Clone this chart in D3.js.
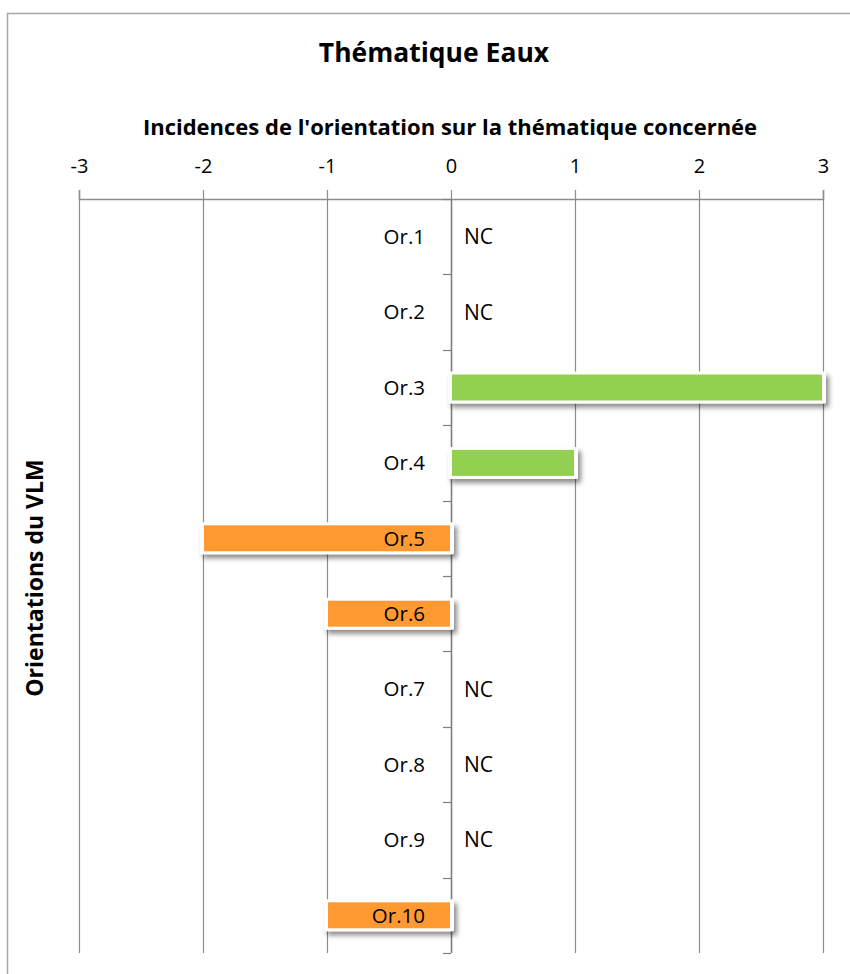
<!DOCTYPE html>
<html>
<head>
<meta charset="utf-8">
<script src="https://cdn.jsdelivr.net/npm/d3@7"></script>
<style>
	body { margin: 0; background: #fff; }
	svg { display: block; }
	text { font-family: 'Open Sans', 'Noto Sans', sans-serif; fill: #000; }
</style>
</head>
<body>
<svg id="chart"></svg>
<script>
// chart data
const categories = ['Or.1', 'Or.2', 'Or.3', 'Or.4', 'Or.5', 'Or.6', 'Or.7', 'Or.8', 'Or.9', 'Or.10'];
const values = [null, null, 3, 1, -2, -1, null, null, null, -1];
const xTicks = [-3, -2, -1, 0, 1, 2, 3];

const config = {
	width: 850,
	height: 974,
	plot: { left: 79, right: 823, top: 199, bottom: 953 },
	pos: '#92D050',
	neg: '#FF9A33',
	grid: '#8c8c8c'
};

const svg = d3.select('#chart')
	.attr('width', config.width)
	.attr('height', config.height);

const defs = svg.append('defs');
const shadow = defs.append('filter').attr('id', 'shadow')
	.attr('x', '-10%').attr('y', '-50%').attr('width', '130%').attr('height', '250%');
shadow.append('feDropShadow')
	.attr('dx', 3).attr('dy', 4).attr('stdDeviation', 2.5)
	.attr('flood-color', '#000').attr('flood-opacity', 0.45);

// outer frame
svg.append('rect')
	.attr('x', 7.5).attr('y', 13.5)
	.attr('width', 900).attr('height', 1000)
	.attr('fill', 'none').attr('stroke', '#a6a6a6').attr('stroke-width', 1.5);

const x = d3.scaleLinear().domain([-3, 3]).range([config.plot.left, config.plot.right]);
const y = d3.scaleBand().domain(categories).range([config.plot.top, config.plot.bottom]);

// vertical gridlines
svg.append('g')
	.selectAll('line')
	.data(xTicks)
	.enter()
	.append('line')
	.attr('x1', d => Math.round(x(d)) + 0.5)
	.attr('x2', d => Math.round(x(d)) + 0.5)
	.attr('y1', config.plot.top)
	.attr('y2', config.plot.bottom)
	.attr('stroke', config.grid)
	.attr('stroke-width', 1.2);

// top axis
const xAxis = svg.append('g')
	.attr('transform', `translate(0,${config.plot.top})`)
	.call(d3.axisTop(x).tickValues(xTicks).tickSize(9).tickPadding(17).tickFormat(d3.format('d')));
xAxis.select('.domain').attr('stroke', config.grid).attr('stroke-width', 1.5);
xAxis.selectAll('.tick line').attr('stroke', config.grid).attr('stroke-width', 1.2);
xAxis.selectAll('.tick text')
	.style('font-family', "'Open Sans', sans-serif")
	.style('font-size', '20px')
	.attr('fill', '#000')
	.text(d => d < 0 ? '-' + Math.abs(d) : d);

// zero axis with category ticks
const boundaries = d3.range(categories.length + 1).map(i => config.plot.top + i * y.step());
svg.append('line')
	.attr('x1', Math.round(x(0)) + 0.5).attr('x2', Math.round(x(0)) + 0.5)
	.attr('y1', config.plot.top).attr('y2', config.plot.bottom)
	.attr('stroke', '#7f7f7f').attr('stroke-width', 1.5);
svg.append('g')
	.selectAll('line')
	.data(boundaries)
	.enter()
	.append('line')
	.attr('x1', x(0) - 8).attr('x2', x(0))
	.attr('y1', d => Math.round(d) + 0.5).attr('y2', d => Math.round(d) + 0.5)
	.attr('stroke', '#7f7f7f').attr('stroke-width', 1.2);

// bars
const data = categories.map((c, i) => ({ cat: c, value: values[i] }));
const barH = 26;
const bars = svg.append('g')
	.selectAll('g')
	.data(data.filter(d => d.value !== null))
	.enter()
	.append('g');

bars.append('rect')
	.attr('x', d => Math.min(x(0), x(d.value)) - 3)
	.attr('y', d => y(d.cat) + y.bandwidth() / 2 - barH / 2 - 3)
	.attr('width', d => Math.abs(x(d.value) - x(0)) + 6)
	.attr('height', barH + 6)
	.attr('rx', 2)
	.attr('fill', '#fff')
	.attr('filter', 'url(#shadow)');

bars.append('rect')
	.attr('x', d => Math.min(x(0), x(d.value)) + 1)
	.attr('y', d => y(d.cat) + y.bandwidth() / 2 - barH / 2)
	.attr('width', d => Math.abs(x(d.value) - x(0)) - 2)
	.attr('height', barH)
	.attr('fill', d => d.value > 0 ? config.pos : config.neg);

// category labels
svg.append('g')
	.selectAll('text')
	.data(data)
	.enter()
	.append('text')
	.attr('x', x(0) - 26)
	.attr('y', d => y(d.cat) + y.bandwidth() / 2)
	.attr('dy', '0.36em')
	.attr('text-anchor', 'end')
	.style('font-size', '20.5px')
	.text(d => d.cat);

// NC labels
svg.append('g')
	.selectAll('text')
	.data(data.filter(d => d.value === null))
	.enter()
	.append('text')
	.attr('x', x(0) + 13)
	.attr('y', d => y(d.cat) + y.bandwidth() / 2)
	.attr('dy', '0.36em')
	.style('font-size', '21px')
	.text('NC');

// titles
svg.append('text')
	.attr('x', 434).attr('y', 62)
	.attr('text-anchor', 'middle')
	.style('font-size', '26.5px').style('font-weight', 'bold')
	.text('Thématique Eaux');

svg.append('text')
	.attr('x', 450).attr('y', 135)
	.attr('text-anchor', 'middle')
	.style('font-size', '22px').style('font-weight', 'bold')
	.text("Incidences de l'orientation sur la thématique concernée");

svg.append('text')
	.attr('transform', 'translate(43,578) rotate(-90)')
	.attr('text-anchor', 'middle')
	.style('font-size', '23px').style('font-weight', 'bold')
	.text('Orientations du VLM');
</script>
</body>
</html>
